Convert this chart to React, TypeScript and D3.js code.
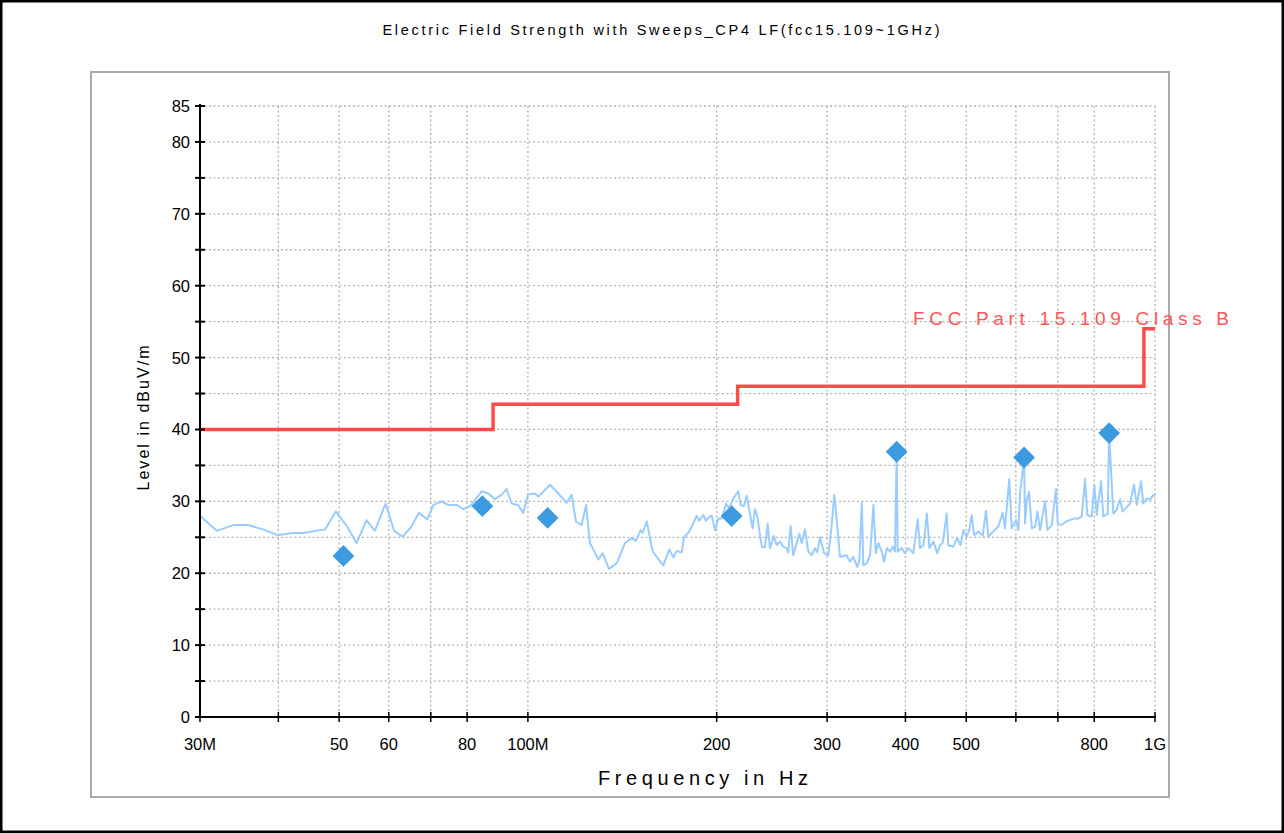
import React from "react";
import * as d3 from "d3";

const traceFreqMHz = [
  30.0, 31.9, 33.9, 35.8, 37.8, 39.9, 42.0, 43.8, 47.5, 49.4,
  51.4, 53.3, 55.3, 57.0, 59.3, 61.2, 63.1, 65.1, 67.0, 69.1,
  70.7, 72.9, 74.6, 77.0, 78.9, 80.9, 84.4, 86.5, 88.6, 90.8,
  92.5, 94.2, 96.5, 98.3, 100.1, 102.6, 103.9, 108.5, 111.2, 115.3,
  117.4, 119.3, 121.8, 123.8, 125.6, 129.5, 131.6, 134.7, 138.6, 142.8,
  146.4, 148.6, 151.3, 152.4, 154.7, 158.1, 164.4, 168.1, 170.6, 172.7,
  175.9, 177.4, 180.2, 182.5, 185.8, 187.6, 190.4, 192.3, 195.1, 196.4,
  198.8, 201.2, 203.7, 207.0, 209.5, 212.6, 216.5, 218.4, 221.1, 223.3,
  228.2, 230.2, 232.2, 234.5, 236.0, 238.8, 241.2, 243.2, 246.8, 249.3,
  252.3, 255.4, 258.6, 260.1, 262.4, 264.9, 268.3, 270.9, 273.3, 276.6,
  280.0, 283.5, 287.0, 289.4, 292.3, 296.6, 301.3, 305.0, 308.0, 310.8,
  314.5, 318.3, 322.3, 326.3, 330.3, 335.2, 337.7, 340.8, 342.7, 347.0,
  351.3, 355.6, 358.7, 362.1, 366.7, 369.8, 373.5, 378.0, 381.7, 384.9,
  387.3, 388.7, 394.5, 399.2, 404.2, 411.7, 418.4, 422.0, 427.3, 432.7,
  436.9, 443.2, 449.6, 454.1, 458.6, 465.4, 468.1, 476.7, 483.8, 489.9,
  494.6, 501.0, 505.8, 510.3, 514.6, 522.7, 531.2, 537.7, 542.2, 552.2,
  562.5, 571.5, 576.4, 585.6, 590.9, 600.4, 605.5, 609.3, 618.3, 620.6,
  624.5, 629.8, 636.1, 643.9, 649.4, 655.8, 667.8, 673.4, 684.4, 695.3,
  699.6, 710.0, 721.3, 732.0, 742.8, 754.6, 764.1, 773.5, 780.0, 792.6,
  800.4, 807.4, 820.2, 827.2, 840.6, 845.0, 858.1, 868.7, 879.5, 888.2,
  901.6, 912.4, 925.9, 935.2, 950.0, 957.8, 970.1, 981.9, 993.9, 1000,
];

const traceLevel = [
  28.0, 25.9, 26.7, 26.7, 26.1, 25.3, 25.6, 25.6, 26.1, 28.6,
  26.6, 24.2, 27.4, 25.9, 29.7, 25.9, 25.1, 26.4, 28.4, 27.5,
  29.5, 30.0, 29.5, 29.5, 28.9, 29.35, 31.4, 31.1, 30.3, 30.9,
  31.7, 29.7, 29.5, 28.4, 31.0, 31.1, 30.65, 32.3, 31.3, 29.8,
  30.9, 27.2, 26.7, 29.5, 24.2, 21.9, 22.8, 20.6, 21.4, 24.2,
  24.9, 24.5, 26.0, 25.6, 27.2, 23.0, 21.1, 23.3, 22.2, 23.1,
  22.9, 25.0, 25.6, 26.5, 28.0, 27.3, 28.1, 27.3, 27.9, 28.0,
  26.0, 27.6, 27.6, 29.7, 29.0, 30.4, 31.4, 29.5, 29.35, 30.75,
  26.25, 28.9, 27.9, 25.3, 23.7, 23.6, 26.9, 23.5, 25.2, 23.9,
  24.4, 23.7, 23.5, 22.9, 26.6, 22.5, 24.2, 25.5, 24.2, 26.1,
  23.0, 22.5, 23.5, 22.9, 25.0, 22.8, 22.5, 26.6, 30.9, 27.4,
  22.3, 22.4, 22.5, 21.6, 22.3, 20.9, 21.8, 29.8, 21.1, 21.4,
  22.5, 29.5, 22.8, 24.2, 23.0, 21.6, 23.5, 23.0, 23.7, 23.0,
  36.8, 23.0, 23.5, 22.8, 23.5, 22.8, 27.5, 23.5, 23.9, 28.3,
  23.5, 24.4, 22.8, 23.9, 24.2, 28.3, 23.9, 23.7, 24.9, 23.9,
  26.0, 25.1, 26.1, 28.1, 25.3, 25.8, 25.2, 28.7, 25.1, 25.8,
  26.5, 28.4, 26.25, 33.1, 26.25, 27.4, 26.0, 31.1, 36.0, 26.9,
  30.2, 31.3, 26.25, 26.5, 28.6, 26.0, 30.0, 26.0, 26.7, 31.7,
  26.9, 26.7, 27.2, 27.4, 27.6, 27.6, 27.9, 33.1, 28.1, 27.9,
  32.3, 28.1, 32.8, 27.9, 28.3, 39.4, 28.3, 28.8, 30.3, 28.6,
  29.2, 29.7, 32.3, 29.5, 32.8, 29.7, 30.4, 30.2, 30.9, 30.75,
];

const markerFreqMHz = [50.8, 84.6, 107.5, 211.3, 387.3, 618.3, 845.0];
const markerLevel = [22.4, 29.35, 27.7, 27.96, 36.9, 36.1, 39.5];

const limitFreqMHz = [30, 88, 88, 216, 216, 960, 960, 1000];
const limitLevel = [40, 40, 43.5, 43.5, 46, 46, 54, 54];

const xTickValues = [30, 40, 50, 60, 70, 80, 100, 200, 300, 400, 500, 600, 700, 800, 1000];
const xTickLabels = ["30M", "", "50", "60", "", "80", "100M", "200", "300", "400", "500", "", "", "800", "1G"];
const yTickValues = [0, 5, 10, 15, 20, 25, 30, 35, 40, 45, 50, 55, 60, 65, 70, 75, 80, 85];
const yTickLabels = ["0", "", "10", "", "20", "", "30", "", "40", "", "50", "", "60", "", "70", "", "80", "85"];

const titleText = "Electric Field Strength with Sweeps_CP4 LF(fcc15.109~1GHz)";
const xAxisTitle = "Frequency in Hz";
const yAxisTitle = "Level in dBuV/m";
const limitName = "FCC Part 15.109 Class B";

const W = 1284;
const H = 833;
const PL = 200, PR = 1155, PT = 106, PB = 717;

export default function App() {
  const x = d3.scaleLog().domain([30, 1000]).range([PL, PR]);
  const y = d3.scaleLinear().domain([0, 85]).range([PB, PT]);

  const traceData = traceFreqMHz.map((f, i) => [f, traceLevel[i]] as [number, number]);
  const line = d3
    .line<[number, number]>()
    .x((d) => x(d[0]))
    .y((d) => y(d[1]));
  const limitData = limitFreqMHz.map((f, i) => [f, limitLevel[i]] as [number, number]);

  const font = "'Liberation Sans', Arial, sans-serif";
  const gridColor = "#b4b4b4";

  return (
    <div style={{ position: "absolute", left: 0, top: 0 }}>
      <svg width={W} height={H} style={{ display: "block", background: "#fff" }} fontFamily={font}>
        <rect x={1.25} y={1.25} width={W - 2.5} height={H - 2.5} fill="#fff" stroke="#000" strokeWidth={2.5} />
        <text x={661} y={35} textAnchor="middle" fontSize={14.5} textLength={557} lengthAdjust="spacing" fill="#000">
          {titleText}
        </text>
        <rect x={91} y={72} width={1078} height={725} fill="#fff" stroke="#aaa" strokeWidth={2} />

        {/* grid */}
        {yTickValues.filter((v) => v > 0).map((v) => (
          <line key={"gy" + v} x1={PL} x2={PR} y1={y(v)} y2={y(v)} stroke={gridColor} strokeWidth={1.3} strokeDasharray="2,2.5" />
        ))}
        {xTickValues.filter((v) => v > 30).map((v) => (
          <line key={"gx" + v} x1={x(v)} x2={x(v)} y1={PT} y2={PB} stroke={gridColor} strokeWidth={1.3} strokeDasharray="2,2.5" />
        ))}

        {/* limit */}
        <path d={line(limitData) || ""} fill="none" stroke="#ff4b4b" strokeWidth={3.5} />
        <text x={913} y={325} fontSize={19} fill="#ff5555" textLength={316} lengthAdjust="spacing">
          {limitName}
        </text>

        {/* trace */}
        <path d={line(traceData) || ""} fill="none" stroke="#99ccff" strokeWidth={2} strokeLinejoin="round" />

        {/* markers */}
        {markerFreqMHz.map((f, i) => (
          <rect
            key={"m" + i}
            x={-7.7}
            y={-7.7}
            width={15.4}
            height={15.4}
            fill="#3c9be0"
            transform={`translate(${x(f)},${y(markerLevel[i])}) rotate(45)`}
          />
        ))}

        {/* axes */}
        <line x1={PL} x2={PL} y1={PT - 2} y2={PB + 1} stroke="#000" strokeWidth={2} />
        <line x1={PL - 1} x2={PR + 1} y1={PB} y2={PB} stroke="#000" strokeWidth={2} />
        {yTickValues.map((v, i) => (
          <g key={"yt" + v}>
            <line x1={PL - 5} x2={PL + 5} y1={y(v)} y2={y(v)} stroke="#000" strokeWidth={2} />
            {yTickLabels[i] && (
              <text x={190} y={y(v)} dy="0.36em" textAnchor="end" fontSize={16.5} fill="#000">
                {yTickLabels[i]}
              </text>
            )}
          </g>
        ))}
        {xTickValues.map((v, i) => (
          <g key={"xt" + v}>
            <line x1={x(v)} x2={x(v)} y1={PB - 5} y2={PB + 5} stroke="#000" strokeWidth={1.5} />
            {xTickLabels[i] && (
              <text x={x(v)} y={750} textAnchor="middle" fontSize={16.5} fill="#000">
                {xTickLabels[i]}
              </text>
            )}
          </g>
        ))}
        <text x={703} y={785} textAnchor="middle" fontSize={20} textLength={210} lengthAdjust="spacing" fill="#000">
          {xAxisTitle}
        </text>
        <text
          transform="translate(149,418) rotate(-90)"
          textAnchor="middle"
          fontSize={16}
          textLength={145}
          lengthAdjust="spacing"
          fill="#000"
        >
          {yAxisTitle}
        </text>
      </svg>
    </div>
  );
}
